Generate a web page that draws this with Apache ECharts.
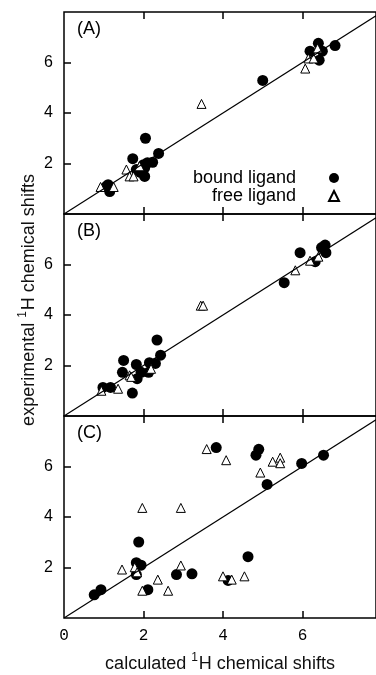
<!DOCTYPE html>
<html>
<head>
<meta charset="utf-8">
<script src="https://cdn.jsdelivr.net/npm/echarts@6/dist/echarts.min.js"></script>
<style>
  html, body { margin: 0; padding: 0; background: #fff; }
  #chart { width: 376px; height: 675px; }
</style>
</head>
<body>
<div id="chart"></div>
<script>
// panel (A)
const boundA = [
  [6.40, 6.76], [6.82, 6.67], [6.19, 6.45], [6.50, 6.45], [6.42, 6.09],
  [5.00, 5.29], [2.05, 3.00], [1.73, 2.19], [2.38, 2.40], [2.23, 2.05],
  [2.10, 2.03], [2.00, 1.95], [2.03, 1.83], [2.03, 1.49], [1.82, 1.76],
  [1.92, 1.65], [1.11, 1.16], [1.15, 0.89], [1.07, 1.10]
];
const freeA = [
  [6.07, 5.76], [6.15, 6.16], [6.28, 6.16], [6.38, 6.56], [3.46, 4.36],
  [1.57, 1.76], [1.65, 1.49], [1.75, 1.49], [1.90, 1.89], [0.92, 1.07],
  [1.25, 1.07]
];
// panel (B)
const boundB = [
  [6.57, 6.77], [6.48, 6.67], [6.59, 6.47], [5.94, 6.47], [6.32, 6.11],
  [5.54, 5.28], [2.34, 3.01], [2.43, 2.41], [1.50, 2.20], [1.82, 2.04],
  [2.15, 2.11], [2.30, 2.08], [1.47, 1.73], [1.94, 1.73], [2.13, 1.73],
  [1.84, 1.48], [1.72, 0.91], [0.98, 1.13], [1.17, 1.13]
];
const freeB = [
  [3.44, 4.37], [3.50, 4.37], [5.82, 5.77], [6.19, 6.15], [6.40, 6.31],
  [1.36, 1.08], [1.65, 1.61], [1.69, 1.55], [2.19, 1.87], [0.94, 1.00]
];
// panel (C)
const boundC = [
  [3.83, 6.75], [4.90, 6.68], [4.83, 6.45], [6.53, 6.45], [5.98, 6.12],
  [5.11, 5.29], [1.88, 3.01], [4.63, 2.43], [1.82, 2.19], [1.94, 2.09],
  [1.82, 1.72], [2.83, 1.72], [3.22, 1.75], [4.13, 1.49], [2.11, 1.12],
  [0.93, 1.12], [0.76, 0.92]
];
const freeC = [
  [3.59, 6.69], [4.08, 6.25], [5.44, 6.35], [5.25, 6.19], [5.44, 6.13],
  [4.94, 5.76], [1.97, 4.36], [2.94, 4.36], [1.46, 1.92], [1.78, 2.01],
  [2.94, 2.08], [2.36, 1.52], [2.62, 1.08], [1.97, 1.08], [4.00, 1.65],
  [4.22, 1.52], [4.54, 1.65], [1.84, 1.81]
];
const diagonal = [[0, 0], [7.85, 7.85]];
const xTicks = [2, 4, 6];
const xTickLabels = [0, 2, 4, 6];
const yTicks = [2, 4, 6];
const panelNames = ['(A)', '(B)', '(C)'];

const bound = [boundA, boundB, boundC];
const free = [freeA, freeB, freeC];
const tops = [12, 214, 416];

const grids = [], xAxes = [], yAxes = [], series = [];
for (let i = 0; i < 3; i++) {
  grids.push({
    left: 64, top: tops[i], width: 314, height: 202,
    show: true, borderColor: '#000', borderWidth: 1.5
  });
  const last = i === 2;
  xAxes.push({
    type: 'value', gridIndex: i, position: 'bottom', min: 0, max: 7.85,
    axisLine: {show: false}, splitLine: {show: false},
    axisTick: {show: true, inside: true, length: 7, customValues: xTicks, lineStyle: {color: '#000', width: 1.5}},
    axisLabel: {
      show: last, customValues: xTickLabels, margin: 10,
      fontFamily: 'Liberation Mono', fontSize: 16, color: '#000'
    },
    name: last ? '{t|calculated }{s|1}{t|H chemical shifts}' : '',
    nameLocation: 'middle', nameGap: 34,
    nameTextStyle: {
      rich: {
        t: {fontFamily: 'Liberation Sans', fontSize: 18, color: '#111'},
        s: {fontFamily: 'Liberation Sans', fontSize: 12, color: '#111', padding: [0, 1, 12, 0]}
      }
    }
  });
  yAxes.push({
    type: 'value', gridIndex: i, min: 0, max: 8,
    axisLine: {show: false}, splitLine: {show: false},
    axisTick: {show: true, inside: true, length: 7, customValues: yTicks, lineStyle: {color: '#000', width: 1.5}},
    axisLabel: {
      customValues: yTicks, margin: 11,
      fontFamily: 'Liberation Sans', fontSize: 16, color: '#000'
    }
  });
  series.push({
    type: 'line', xAxisIndex: i, yAxisIndex: i, data: diagonal,
    symbol: 'none', silent: true, clip: true,
    lineStyle: {color: '#000', width: 1.2}
  });
  series.push({
    type: 'scatter', name: 'bound ligand', xAxisIndex: i, yAxisIndex: i,
    data: bound[i], symbol: 'circle', symbolSize: 11,
    itemStyle: {color: '#000', opacity: 1}
  });
  series.push({
    type: 'scatter', name: 'free ligand', xAxisIndex: i, yAxisIndex: i,
    data: free[i], symbol: 'triangle', symbolSize: 9,
    itemStyle: {color: '#fff', borderColor: '#000', borderWidth: 1, opacity: 1}
  });
}
// top ticks of each panel
for (let i = 0; i < 3; i++) {
  xAxes.push({
    type: 'value', gridIndex: i, position: 'top', min: 0, max: 7.85,
    axisLine: {show: false}, splitLine: {show: false},
    axisTick: {show: true, inside: true, length: 7, customValues: xTicks, lineStyle: {color: '#000', width: 1.5}},
    axisLabel: {show: false}
  });
}

const chart = echarts.init(document.getElementById('chart'), null, {renderer: 'canvas'});
chart.setOption({
  animation: false,
  backgroundColor: '#fff',
  grid: grids,
  xAxis: xAxes,
  yAxis: yAxes,
  series: series,
  legend: {
    data: ['bound ligand', 'free ligand'],
    orient: 'vertical', align: 'right',
    right: 36, top: 169, itemGap: 0, padding: 0,
    itemWidth: 10, itemHeight: 10,
    selectedMode: false,
    textStyle: {
      fontFamily: 'Liberation Sans', fontSize: 18, color: '#000',
      lineHeight: 18, padding: [0, 28, 0, 0]
    }
  },
  graphic: [
    ...panelNames.map((n, i) => ({
      type: 'text', left: 77, top: tops[i] + 8,
      style: {text: n, fontFamily: 'Liberation Sans', fontSize: 18, fill: '#000'}
    })),
    {
      type: 'text', x: 29, y: 300, rotation: Math.PI / 2,
      style: {
        text: '{t|experimental }{s|1}{t|H chemical shifts}',
        align: 'center', verticalAlign: 'middle',
        rich: {
          t: {fontFamily: 'Liberation Sans', fontSize: 18, fill: '#111'},
          s: {fontFamily: 'Liberation Sans', fontSize: 12, fill: '#111', padding: [0, 1, 12, 0]}
        }
      }
    }
  ]
});
</script>
</body>
</html>
